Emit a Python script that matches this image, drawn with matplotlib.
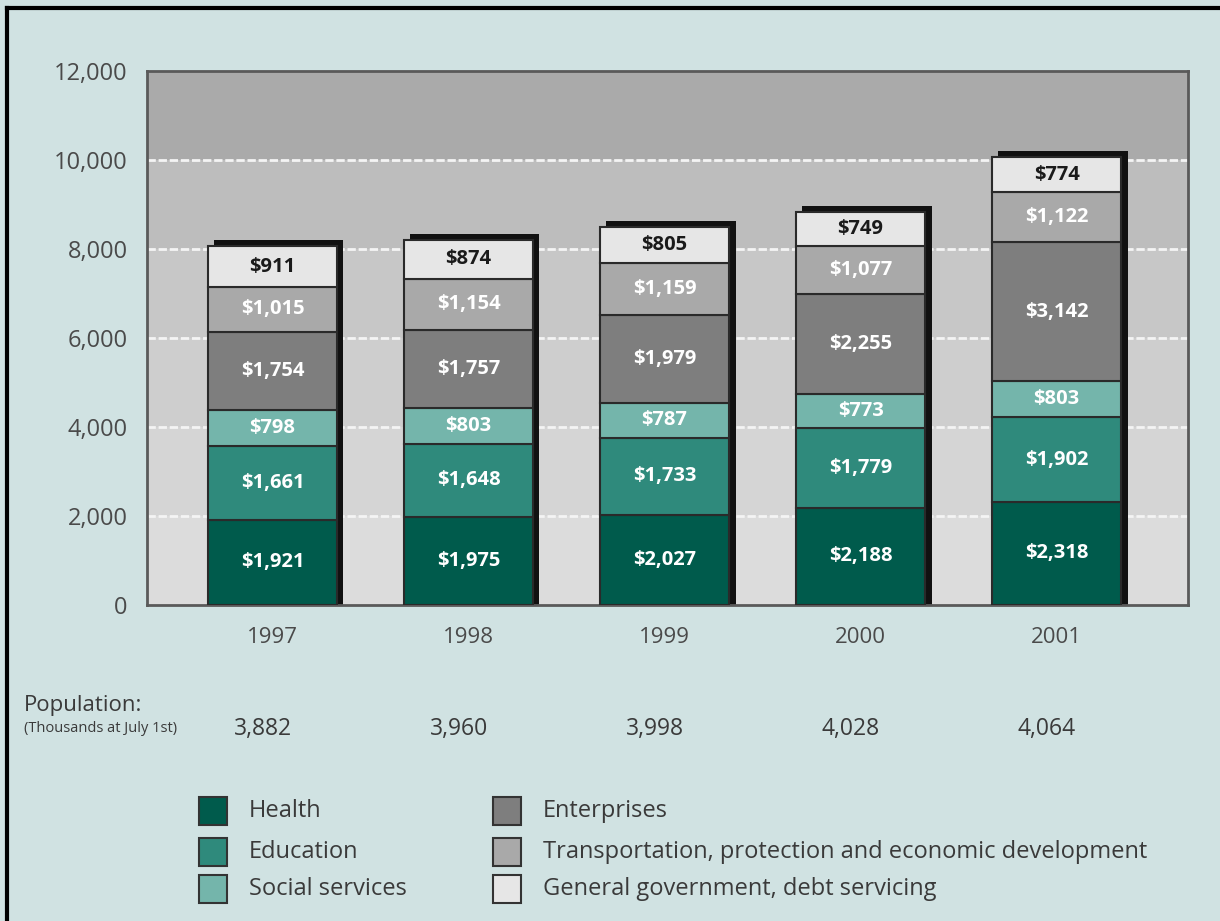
import numpy as np
import matplotlib.pyplot as plt
from matplotlib.patches import Rectangle
from matplotlib.lines import Line2D

plt.rcParams['font.family'] = ['Open Sans', 'DejaVu Sans']

years = ['1997', '1998', '1999', '2000', '2001']
population = ['3,882', '3,960', '3,998', '4,028', '4,064']

categories = ['Health', 'Education', 'Social services', 'Enterprises',
              'Transportation, protection and economic development',
              'General government, debt servicing']
health = [1921, 1975, 2027, 2188, 2318]
education = [1661, 1648, 1733, 1779, 1902]
social = [798, 803, 787, 773, 803]
enterprises = [1754, 1757, 1979, 2255, 3142]
transport = [1015, 1154, 1159, 1077, 1122]
general = [911, 874, 805, 749, 774]

series = [health, education, social, enterprises, transport, general]
colors = ['#005b4c', '#2f8a7c', '#74b5ab', '#7e7e7e', '#a9a9a9', '#e6e6e6']
band_colors = ['#dcdcdc', '#d5d5d5', '#cecece', '#c7c7c7', '#bdbdbd', '#aaaaaa']
bg = '#d0e2e2'

fig = plt.figure(figsize=(12.2, 9.21), dpi=100, facecolor=bg)
ax = fig.add_axes([147 / 1220, 1 - 605 / 921, 1041 / 1220, 534 / 921])
ax.set_facecolor(bg)

x = np.arange(len(years))
width = 0.66
ax.set_xlim(-0.64, 4.67)
ax.set_ylim(0, 12000)

# shaded bands and white grid lines
for i, c in enumerate(band_colors):
    ax.axhspan(i * 2000, (i + 1) * 2000, color=c, zorder=0, lw=0)
for yv in range(2000, 12000, 2000):
    ax.axhline(yv, color='#f4f4f4', lw=2, ls=(0, (3, 1)), zorder=1)

totals = np.sum(series, axis=0)

# drop shadow behind each stack
ax.bar(x + 0.032, totals + 135, width, color='#111111', zorder=2, lw=0)

bottom = np.zeros(len(years))
for k, (vals, c) in enumerate(zip(series, colors)):
    ax.bar(x, vals, width, bottom=bottom, color=c, edgecolor='#2a2a2a',
           lw=1.5, zorder=3)
    for xi, b, v in zip(x, bottom, vals):
        top = k == len(series) - 1
        ax.text(xi, b + v / 2, f'${v:,}', ha='center', va='center',
                fontsize=14.5, fontweight='bold',
                color='#1a1a1a' if top else 'white', zorder=4)
    bottom += vals

ax.set_yticks(range(0, 12001, 2000))
ax.set_yticklabels([f'{v:,}' for v in range(0, 12001, 2000)])
ax.set_xticks(x)
ax.set_xticklabels(years)
ax.tick_params(length=0, labelsize=16, labelcolor='#4a4a4a')
ax.tick_params(axis='y', labelsize=17, pad=14)
ax.tick_params(axis='x', pad=16)
for s in ax.spines.values():
    s.set_color('#5a5a5a')
    s.set_linewidth(2)

# population row
fig.text(24 / 1220, 1 - 705 / 921, 'Population:', fontsize=16,
         color='#3a3a3a', va='center')
fig.text(24 / 1220, 1 - 728 / 921, '(Thousands at July 1st)', fontsize=10.5,
         color='#3a3a3a', va='center')
for xi, p in zip(x, population):
    ax.text(xi - 0.05, -2780, p, ha='center', va='center', fontsize=16.5,
            color='#3a3a3a', clip_on=False)

# legend in two columns
col_x = [199, 493]
row_y = [811, 852, 889]
for i, (name, c) in enumerate(zip(categories, colors)):
    cx = col_x[i // 3]
    cy = row_y[i % 3]
    fig.add_artist(Rectangle(((cx) / 1220, 1 - (cy + 14) / 921), 28 / 1220,
                             28 / 921, transform=fig.transFigure,
                             facecolor=c, edgecolor='#333333', lw=1.5))
    fig.text((cx + 50) / 1220, 1 - cy / 921, name, fontsize=17,
             color='#3a3a3a', va='center')

# outer frame
fig.add_artist(Line2D([7 / 1220, 1], [1 - 8 / 921, 1 - 8 / 921],
                      transform=fig.transFigure, color='black', lw=3))
fig.add_artist(Line2D([7 / 1220, 7 / 1220], [0, 1 - 8 / 921],
                      transform=fig.transFigure, color='black', lw=3))

fig.savefig('out.png', dpi=100, facecolor=bg)
